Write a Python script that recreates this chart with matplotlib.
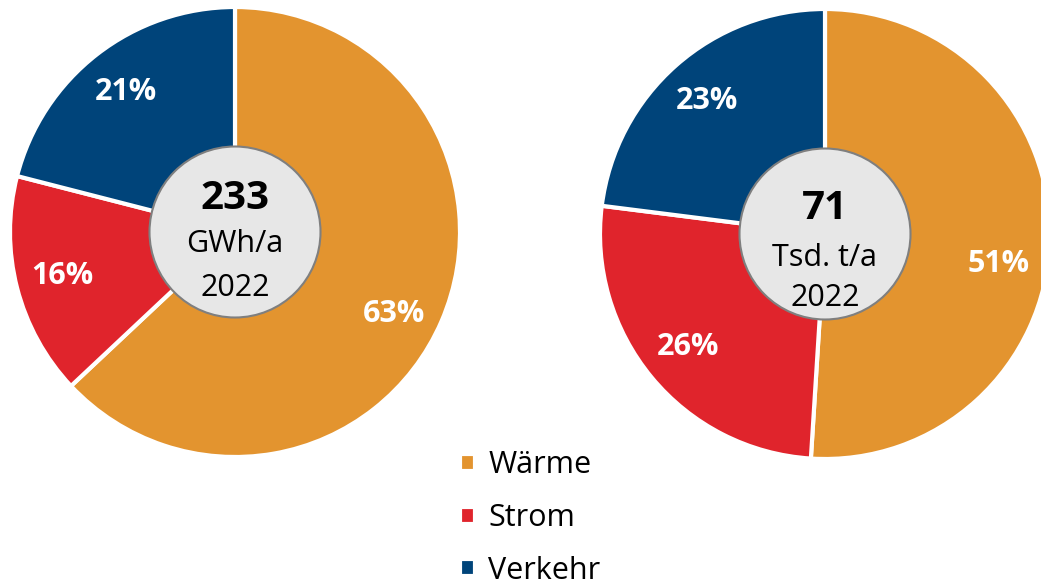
import matplotlib.pyplot as plt
from matplotlib.patches import Circle

plt.rcParams['font.family'] = ['Open Sans', 'DejaVu Sans']

# data
categories = ['Wärme', 'Strom', 'Verkehr']
energie = [63, 16, 21]      # GWh/a 2022
emissionen = [51, 26, 23]   # Tsd. t/a 2022
center_energie = ['233', 'GWh/a', '2022']
center_emissionen = ['71', 'Tsd. t/a', '2022']

colors = ['#E3942F', '#E0242C', '#00447A']

W, H = 1041, 585
fig = plt.figure(figsize=(W / 100, H / 100), dpi=100)


def draw_donut(box, values, center_text, y_offsets, label_shift):
    ax = fig.add_axes([box[0] / W, box[1] / H, box[2] / W, box[3] / H])
    wedges, _, autotexts = ax.pie(
        values, colors=colors, startangle=90, counterclock=False,
        autopct=lambda p: f'{p:.0f}%', pctdistance=0.79,
        wedgeprops=dict(edgecolor='white', linewidth=3),
        textprops=dict(color='white', fontsize=22, fontweight='bold'))
    # excel-like placement of the first (largest) label
    x, y = autotexts[0].get_position()
    autotexts[0].set_position((x - 0.02, y + label_shift))
    ax.set_xlim(-1, 1)
    ax.set_ylim(-1, 1)
    ax.set_aspect('equal')
    ax.add_patch(Circle((0.0, 0.0), 0.38, facecolor='#E7E7E7',
                        edgecolor='#7F7F7F', linewidth=1.5, zorder=5))
    ax.text(0, y_offsets[0], center_text[0], ha='center', va='center',
            fontsize=29, fontweight='bold', zorder=6)
    ax.text(0, y_offsets[1], center_text[1], ha='center', va='center',
            fontsize=22, zorder=6)
    ax.text(0, y_offsets[2], center_text[2], ha='center', va='center',
            fontsize=22, zorder=6)
    return wedges


wedges = draw_donut((10, 128, 450, 450), energie, center_energie,
                    (0.15, -0.055, -0.25), -0.05)
draw_donut((600, 126, 450, 450), emissionen, center_emissionen,
           (0.115, -0.105, -0.285), -0.11)

fig.legend(wedges, categories, loc='center left',
           bbox_to_anchor=(460 / W, (585 - 518) / H), frameon=False,
           fontsize=22, handlelength=0.48, handleheight=0.48,
           handletextpad=0.45, labelspacing=0.74, borderpad=0,
           borderaxespad=0)

fig.savefig('out.png', dpi=100)
